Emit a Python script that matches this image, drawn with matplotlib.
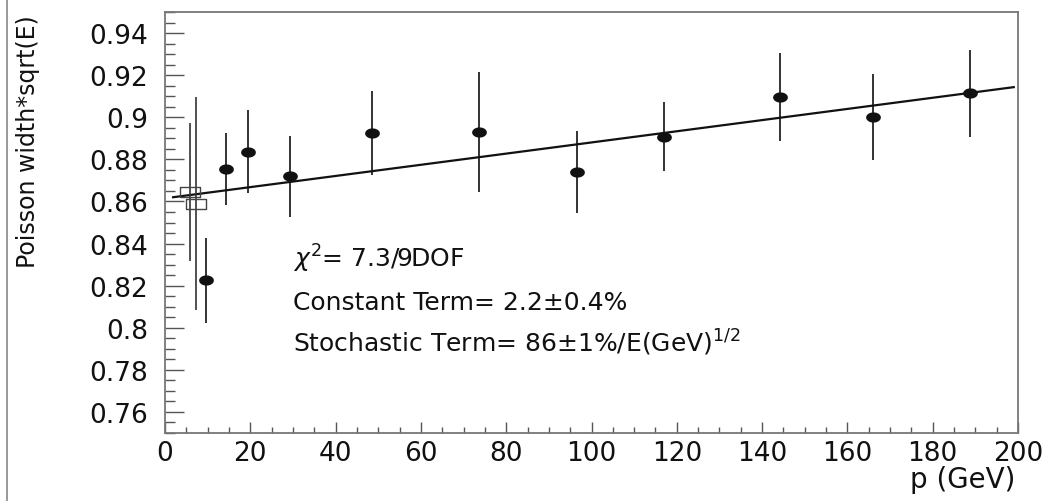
"""Poisson width * sqrt(E) vs beam momentum, with linear fit."""
import matplotlib

matplotlib.use("Agg")
import matplotlib.pyplot as plt
import numpy as np
from matplotlib.lines import Line2D
from matplotlib.ticker import MultipleLocator

# --- data -------------------------------------------------------------------
p_filled = [9.6, 14.3, 19.4, 29.4, 48.5, 73.6, 96.5, 117.1, 144.2, 165.9, 188.7]
w_filled = [0.8225, 0.8753, 0.8837, 0.8719, 0.8927, 0.8930, 0.8738, 0.8908, 0.9096, 0.9001, 0.9113]
e_filled = [0.0202, 0.0171, 0.0197, 0.0193, 0.0200, 0.0285, 0.0195, 0.0164, 0.0208, 0.0205, 0.0207]

p_open = [5.9, 7.3]
w_open = [0.8645, 0.8590]
e_open = [0.0329, 0.0507]

fit_p = [1.9, 199.0]
fit_w = [0.8620, 0.9143]

fit_lines = [
    r"$\chi^{2}$= 7.3/9DOF",
    "Constant Term= 2.2±0.4%",
    "Stochastic Term= 86±1%/E(GeV)$^{1/2}$",
]
fit_text_y = [0.8292, 0.8088, 0.7890]

W, H = 1061, 502
FG = "#111111"
FRAME = "#777777"

plt.rcParams.update({"font.family": "DejaVu Sans", "mathtext.fontset": "dejavusans"})

fig = plt.figure(figsize=(W / 100, H / 100), dpi=100)
ax = fig.add_axes([165 / W, 1 - 434 / H, 853 / W, 421 / H])

# marker shapes: flattened ellipse / flat rectangle like the original
t = np.linspace(0, 2 * np.pi, 41)
ellipse = list(zip(np.cos(t), 0.66 * np.sin(t)))
rect = [(-1, -0.5), (1, -0.5), (1, 0.5), (-1, 0.5), (-1, -0.5)]

ax.plot(fit_p, fit_w, color=FG, lw=1.6, zorder=2)

ax.errorbar(p_open, w_open, yerr=e_open, fmt="none", ecolor="#333333", elinewidth=1.2, zorder=3)
ax.plot(p_open, w_open, ls="none", marker=rect, ms=14.4, mfc="none", mec="#444444",
        mew=1.0, zorder=4)

ax.errorbar(p_filled, w_filled, yerr=e_filled, fmt="none", ecolor=FG, elinewidth=1.2, zorder=3)
ax.plot(p_filled, w_filled, ls="none", marker=ellipse, ms=9.6, mfc=FG, mec=FG, zorder=5)

for txt, yy in zip(fit_lines, fit_text_y):
    ax.text(30, yy, txt, fontsize=18, color=FG, ha="left", va="baseline")

ax.set_xlim(0, 200)
ax.set_ylim(0.75, 0.95)
ax.xaxis.set_major_locator(MultipleLocator(20))
ax.xaxis.set_minor_locator(MultipleLocator(5))
ax.yaxis.set_major_locator(MultipleLocator(0.02))
ax.yaxis.set_minor_locator(MultipleLocator(0.005))
ax.set_yticks(np.arange(0.76, 0.9401, 0.02))
ax.set_yticklabels(["0.76", "0.78", "0.8", "0.82", "0.84", "0.86", "0.88", "0.9", "0.92", "0.94"])

ax.tick_params(axis="both", which="both", direction="in", top=False, right=False,
               colors="#555555", labelcolor=FG, labelsize=19)
ax.tick_params(axis="y", which="major", length=13.7, width=1.0, pad=12)
ax.tick_params(axis="y", which="minor", length=7.2, width=1.0)
ax.tick_params(axis="x", which="major", length=7.9, width=1.0, pad=5)
ax.tick_params(axis="x", which="minor", length=4.3, width=1.0)
for s in ax.spines.values():
    s.set_color(FRAME)
    s.set_linewidth(1.3)

fig.text(28 / W, 1 - 15 / H, "Poisson width*sqrt(E)", rotation=90, fontsize=17,
         color=FG, ha="center", va="top")
fig.text(1015 / W, 1 - 480 / H, "p (GeV)", fontsize=20, color=FG, ha="right", va="center")

# thin page border on the left edge
fig.add_artist(Line2D([7 / W, 7 / W], [0, 1], transform=fig.transFigure, color="#888888", lw=1.2))

fig.savefig("out.png", dpi=100, facecolor="white")
